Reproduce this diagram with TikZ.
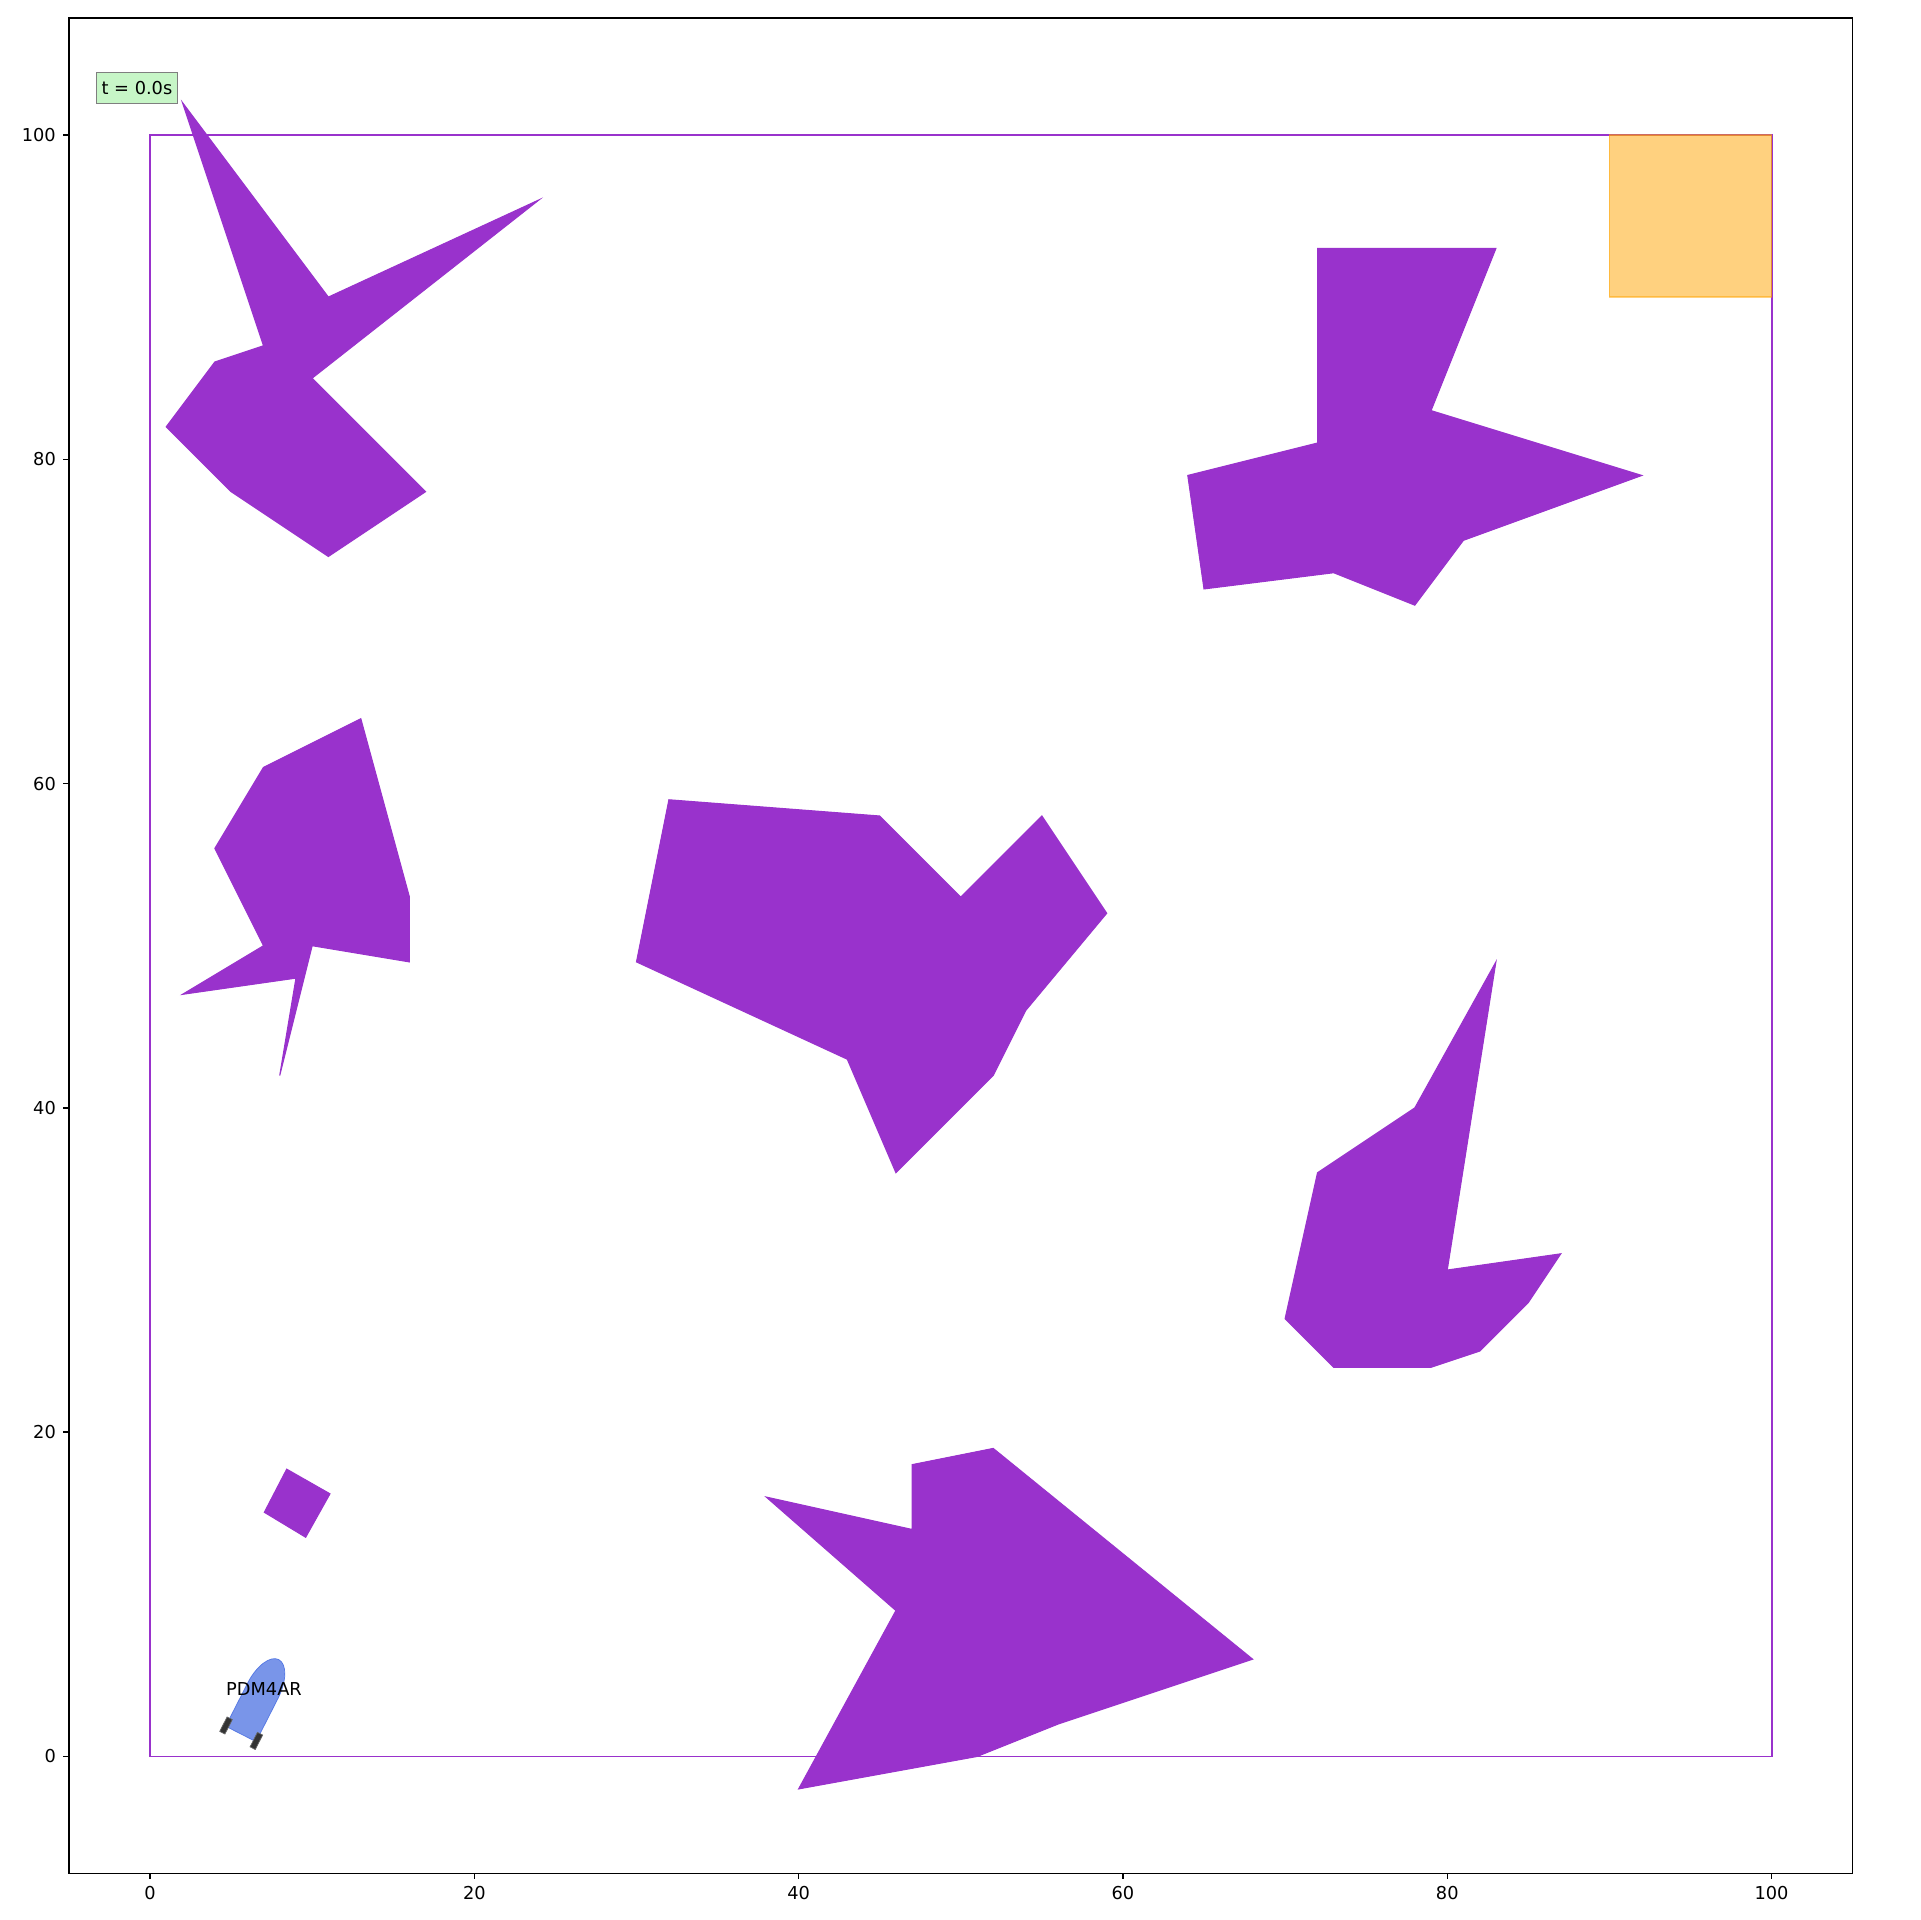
\documentclass[tikz,border=0pt]{standalone}
\usepackage{fontspec}
\setmainfont{DejaVu Sans}
\definecolor{orchid}{RGB}{153,50,204}
\definecolor{goalorange}{RGB}{255,165,0}
\definecolor{royal}{RGB}{65,105,225}
\definecolor{lgreen}{RGB}{144,238,144}
\tikzset{
  lbl/.style={font=\fontsize{5.06}{6}\selectfont, inner sep=0pt},
  obst/.style={fill=orchid, draw=orchid, line width=0.3pt, line join=miter},
  spine/.style={draw=black, line width=0.4pt},
  tickmark/.style={draw=black, line width=0.4pt},
  wheel/.style={fill=black!80, draw=black!60, line width=0.2pt},
}
\begin{document}
\begin{tikzpicture}
\useasboundingbox (0,0) rectangle (19.2,19.2);
\fill[white] (0,0) rectangle (19.2,19.2);
\begin{scope}[shift={(1.50cm,1.635cm)}, x=0.16215cm, y=0.16215cm]
  % axes frame
  \draw[spine] (-5,-7.2) rectangle (105,107.2);
  \foreach \v in {0,20,40,60,80,100} {
    \draw[tickmark] (\v,-7.2) -- ++(0,-0.062cm);
    \node[lbl, anchor=north] (xt\v) at ([yshift=-0.124cm]\v,-7.2) {\v};
    \draw[tickmark] (-5,\v) -- ++(-0.062cm,0);
    \node[lbl, anchor=east] (yt\v) at ([xshift=-0.124cm]-5,\v) {\v};
  }
  % boundary
  \draw[orchid, line width=0.55pt] (0,0) rectangle (100,100);
  % obstacles
  \draw[obst] (2,102) -- (11,90) -- (24,96) -- (10,85) -- (17,78) -- (11,74) -- (5,78) -- (1,82) -- (4,86) -- (7,87) -- cycle;
  \draw[obst] (72,93) -- (83,93) -- (79,83) -- (92,79) -- (81,75) -- (78,71) -- (73,73) -- (65,72) -- (64,79) -- (72,81) -- cycle;
  \draw[obst] (13,64) -- (16,53) -- (16,49) -- (10,50) -- (8,42) -- (9,48) -- (2,47) -- (7,50) -- (4,56) -- (7,61) -- cycle;
  \draw[obst] (32,59) -- (45,58) -- (50,53) -- (55,58) -- (59,52) -- (54,46) -- (52,42) -- (46,36) -- (43,43) -- (30,49) -- cycle;
  \draw[obst] (83,49) -- (80,30) -- (87,31) -- (85,28) -- (82,25) -- (79,24) -- (73,24) -- (70,27) -- (72,36) -- (78,40) -- cycle;
  \draw[obst] (38,16) -- (47,14) -- (47,18) -- (52,19) -- (68,6) -- (56,2) -- (51,0) -- (40,-2) -- (46,9) -- cycle;
  \draw[obst] (8.43,17.72) -- (11.10,16.20) -- (9.60,13.52) -- (7.05,15.06) -- cycle;
  % goal
  \draw[fill=goalorange, fill opacity=0.5, draw=goalorange, draw opacity=0.5, line width=0.4pt] (90,90) rectangle (100,100);
  % vehicle
  \begin{scope}[shift={(5.6,1.39)}, rotate=63]
    \draw[fill=royal, fill opacity=0.7, draw=royal, draw opacity=0.8, line width=0.2pt]
      (0,-1.05) -- (3.0,-1.05) arc[start angle=-90, end angle=90, x radius=2.15, y radius=1.05] -- (0,1.05) -- cycle;
    \draw[wheel] (-0.45,0.87) rectangle (0.55,1.23);
    \draw[wheel] (-0.45,-1.23) rectangle (0.55,-0.87);
  \end{scope}
  \node[lbl] (veh) at (7.03,4.18) {PDM4AR};
  % time box
  \node[lbl, fill=lgreen, fill opacity=0.5, text opacity=1, draw=black, draw opacity=0.5, line width=0.35pt,
        minimum width=0.806cm, minimum height=0.307cm] (tbox) at (-0.805,102.9) {t = 0.0s};
\end{scope}
\end{tikzpicture}
\end{document}
